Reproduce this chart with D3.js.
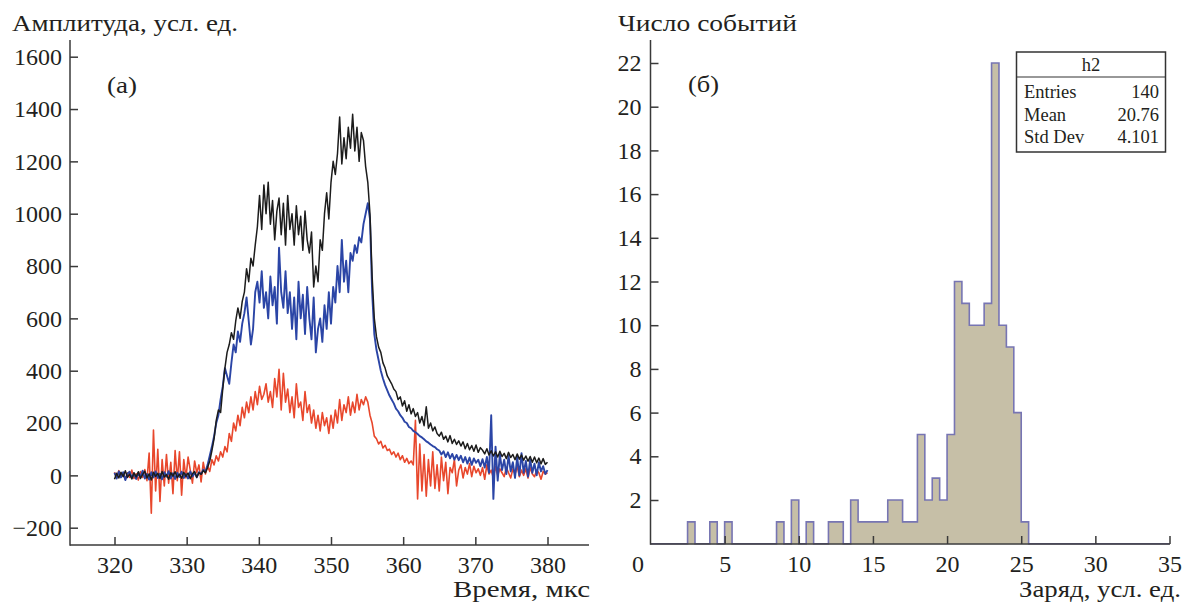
<!DOCTYPE html>
<html>
<head>
<meta charset="utf-8">
<script src="https://cdn.jsdelivr.net/npm/d3@7"></script>
<style>
  body { margin: 0; background: #fff; }
  svg text { font-family: "Liberation Serif", "Times New Roman", serif; fill: #231f20; }
</style>
</head>
<body>
<svg id="fig" width="1183" height="602"></svg>
<script>
// ---- Panel (а): signal amplitude vs time, sampled every 0.3 µs from 320 µs ----
const timeStart = 320;
const timeStep = 0.3;

const amplitudeBlack = [
  -15, 8, -10, 12, -5, 18, -8, 5, -14, 10,
  -6, 14, -12, 4, 16, -10, 6, -18, 12, -4,
  8, -12, 15, -6, 3, -15, 10, -3, 14, -9,
  5, -11, 12, -4, 9, -13, 6, 15, -7, 10,
  4, 18, 10, 30, 55, 95, 140, 210, 250, 240,
  330, 410, 470, 500, 545, 520, 590, 640, 600, 665,
  700, 790, 740, 830, 800, 880, 950, 1070, 940, 1110,
  1000, 1120, 960, 1050, 900, 1010, 1060, 920, 1040, 880,
  1070, 940, 1000, 880, 1030, 920, 990, 860, 1010, 900,
  850, 930, 720, 800, 740, 900, 860, 1000, 1080, 980,
  1120, 1200, 1150, 1230, 1370, 1190, 1290, 1210, 1330, 1250,
  1380, 1240, 1330, 1200, 1310, 1280, 1180, 1120, 1000, 760,
  600, 530, 490, 470, 430, 410, 380, 365, 350, 330,
  320, 290, 300, 265, 285, 245, 270, 235, 255, 225,
  240, 200, 225, 190, 262, 180, 200, 170, 185, 160,
  150, 165, 138, 150, 128, 152, 122, 138, 118, 132,
  112, 128, 102, 122, 98, 114, 92, 116, 88, 106,
  96, 82, 102, 78, 94, 74, 90, 70, 92, 72,
  84, 64, 88, 68, 80, 60, 82, 62, 78, 58,
  74, 54, 72, 50, 70, 48, 66, 44, 64, 42,
  50
];

const amplitudeBlue = [
  10, -12, 15, -8, 12, -18, 6, 14, -10, 8,
  -14, 10, -6, 18, -12, 5, -16, 12, -8, 15,
  -10, 6, -15, 12, -5, 16, -12, 8, -14, 10,
  -6, 14, -10, 5, -12, 15, -4, 10, -8, 12,
  5, 22, 15, 40, 75, 110, 150, 200, 230, 290,
  340, 410, 380, 350, 430, 500, 470, 550, 510, 580,
  620, 680, 590, 500, 560, 700, 740, 660, 780, 640,
  700, 600, 760, 650, 720, 580, 870, 700, 640, 780,
  620, 700, 560, 680, 520, 740, 600, 690, 540, 720,
  600, 520, 680, 470, 560, 600, 510, 650, 560, 700,
  580, 720, 660, 800, 700, 900, 740, 820, 700, 850,
  820, 880, 850, 910, 890, 960, 1000, 1040, 980, 700,
  540, 480, 440, 400, 370, 345, 325, 305, 290, 275,
  255, 245, 230, 220, 205, 200, 185, 180, 170, 165,
  158, 150, 145, 138, 130, 125, 118, 112, 108, 100,
  95, 80, 92, 70, 88, 65, 82, 60, 78, 58,
  75, 50, 70, 45, 68, 40, 65, 48, 60, 35,
  62, 30, 70, 10, 230, -90, 110, -20, 80, 20,
  60, 5, 75, 15, 50, -10, 70, 0, 85, 10,
  55, -5, 60, 10, 45, 0, 50, 15, 35, 5,
  20
];

const amplitudeRed = [
  12, -10, 18, -5, 8, -15, 10, -8, 20, -12,
  6, -18, 15, -8, 22, -20, 85, -145, 173, -60,
  100, -100, 60, -40, 80, -30, 50, -70, 95, -20,
  90, -76, 60, -10, 70, 20, -30, 55, 10, 40,
  -25, 50, 5, 35, 15, 60, 40, 75, 55, 90,
  70, 110, 90, 160, 130, 200, 170, 230, 190, 260,
  220, 280, 240, 300, 250, 320, 270, 340, 290, 310,
  350, 280, 320, 260, 370, 300, 405, 250, 390, 280,
  330, 240, 300, 220, 350, 260, 280, 210, 320, 240,
  270, 200, 250, 180, 230, 170, 240, 190, 220, 160,
  230, 180, 250, 200, 290, 210, 270, 240, 300, 230,
  280, 240, 310, 250, 290, 270, 300, 280, 230, 200,
  150, 140, 120, 130, 105, 115, 95, 100, 80, 90,
  70, 85, 60, 75, 50, 65, 45, 55, 40, 210,
  -90, 120, -60, 80, -80, 60, -40, 90, -50, 40,
  -60, 70, -20, 50, -70, 30, 10, 60, -40, 20,
  40, -10, 30, 5, 45, -5, 35, 10, 25, 0,
  30, -15, 40, 5, 20, -10, 35, 0, 25, 10,
  -5, 30, 10, -10, 25, 5, 35, -5, 20, 0,
  25, -10, 30, 5, -5, 20, 10, -15, 15, 5,
  10
];

const timeTicks = [320, 330, 340, 350, 360, 370, 380];
const amplitudeTicks = [-200, 0, 200, 400, 600, 800, 1000, 1200, 1400, 1600];

// ---- Panel (б): charge histogram, 70 bins of 0.5 from 0 to 35 ----
const chargeBinWidth = 0.5;
const chargeCounts = [
  0, 0, 0, 0, 0, 1, 0, 0, 1, 0,
  1, 0, 0, 0, 0, 0, 0, 1, 0, 2,
  0, 1, 0, 0, 1, 1, 0, 2, 1, 1,
  1, 1, 2, 2, 1, 1, 5, 2, 3, 2,
  5, 12, 11, 10, 10, 11, 22, 10, 9, 6,
  1, 0, 0, 0, 0, 0, 0, 0, 0, 0,
  0, 0, 0, 0, 0, 0, 0, 0, 0, 0
];
const chargeTicks = [0, 5, 10, 15, 20, 25, 30, 35];
const countTicks = [2, 4, 6, 8, 10, 12, 14, 16, 18, 20, 22];

const statsTitle = "h2";
const statsLabels = ["Entries", "Mean", "Std Dev"];
const statsValues = [String(d3.sum(chargeCounts)), "20.76", "4.101"];

// ---------------------------------------------------------------
const svg = d3.select("#fig");
const axisColor = "#3a3a3a";
const tickFont = 24;
const fmt = d3.format("d");

// text helper: serif label stretched to a given width
function label(g, x, y, str, width, anchor) {
  const t = g.append("text").attr("x", x).attr("y", y).attr("font-size", 24)
    .attr("text-anchor", anchor || "start").text(str);
  if (width) t.attr("textLength", width).attr("lengthAdjust", "spacingAndGlyphs");
  return t;
}

// ===== Panel (а) =====
const xT = d3.scaleLinear().domain([320, 380]).range([114.5, 547.5]);
const yA = d3.scaleLinear().domain([-200, 1600]).range([527.7, 56.7]);

const left = svg.append("g");
const traceLine = d3.line()
  .x((d, i) => xT(timeStart + i * timeStep))
  .y(d => yA(d));

[
  { data: amplitudeRed, color: "#e8472c", width: 1.6 },
  { data: amplitudeBlue, color: "#2b45a6", width: 1.9 },
  { data: amplitudeBlack, color: "#1c1c1c", width: 1.5 }
].forEach(s => {
  left.append("path")
    .datum(s.data)
    .attr("fill", "none")
    .attr("stroke", s.color)
    .attr("stroke-width", s.width)
    .attr("stroke-linejoin", "round")
    .attr("d", traceLine);
});

// axes of panel (а)
const axA_y = left.append("g").attr("transform", "translate(70,0)")
  .call(d3.axisLeft(yA).tickValues(amplitudeTicks).tickFormat(fmt).tickSize(-8).tickPadding(8));
const axA_x = left.append("g").attr("transform", "translate(0,545)")
  .call(d3.axisBottom(xT).tickValues(timeTicks).tickFormat(fmt).tickSize(-8).tickPadding(11));
[axA_y, axA_x].forEach(g => {
  g.select(".domain").remove();
  g.selectAll(".tick line").attr("stroke", axisColor).attr("stroke-width", 1.5);
  g.selectAll(".tick text").attr("font-size", tickFont).attr("fill", "#231f20")
    .style("font-family", "Liberation Serif");
});
left.append("line").attr("x1", 70).attr("x2", 70).attr("y1", 40).attr("y2", 545.75)
  .attr("stroke", axisColor).attr("stroke-width", 1.5);
left.append("line").attr("x1", 70).attr("x2", 589).attr("y1", 545).attr("y2", 545)
  .attr("stroke", axisColor).attr("stroke-width", 1.5);

label(left, 12, 31, "Амплитуда, усл. ед.", 226);
label(left, 590, 597, "Время, мкс", 137, "end");
label(left, 107, 93, "(а)", 30);

// ===== Panel (б) =====
const xC = d3.scaleLinear().domain([0, 35]).range([650.5, 1169.5]);
const yN = d3.scaleLinear().domain([0, 22]).range([543.7, 63]);

const right = svg.append("g");
const histPoints = chargeCounts.map((c, i) => [i * chargeBinWidth, c]);
histPoints.push([chargeCounts.length * chargeBinWidth, 0]);

right.append("path")
  .datum(histPoints)
  .attr("fill", "#c6bfa7")
  .attr("stroke", "none")
  .attr("d", d3.area().curve(d3.curveStepAfter)
    .x(d => xC(d[0])).y0(yN(0)).y1(d => yN(d[1])));
right.append("path")
  .datum(histPoints)
  .attr("fill", "none")
  .attr("stroke", "#7775b3")
  .attr("stroke-width", 1.6)
  .attr("d", d3.line().curve(d3.curveStepAfter)
    .x(d => xC(d[0])).y(d => yN(d[1])));

const axB_y = right.append("g").attr("transform", "translate(650.5,0)")
  .call(d3.axisLeft(yN).tickValues(countTicks).tickFormat(fmt).tickSize(-8).tickPadding(9));
const axB_x = right.append("g").attr("transform", "translate(0,544)")
  .call(d3.axisBottom(xC).tickValues(chargeTicks).tickFormat(fmt).tickSize(-8).tickPadding(11));
[axB_y, axB_x].forEach(g => {
  g.select(".domain").remove();
  g.selectAll(".tick line").attr("stroke", axisColor).attr("stroke-width", 1.5);
  g.selectAll(".tick text").attr("font-size", tickFont).attr("fill", "#231f20")
    .style("font-family", "Liberation Serif");
});
// the zero label sits just left of the vertical axis
axB_x.selectAll(".tick").filter(d => d === 0).select("text").attr("x", -13);
axB_x.selectAll(".tick").filter(d => d === 0).select("line").remove();

right.append("line").attr("x1", 650.5).attr("x2", 650.5).attr("y1", 40).attr("y2", 544.75)
  .attr("stroke", axisColor).attr("stroke-width", 1.5);
right.append("line").attr("x1", 650.5).attr("x2", 1170).attr("y1", 544).attr("y2", 544)
  .attr("stroke", axisColor).attr("stroke-width", 1.5);

label(right, 618, 31, "Число событий", 179);
label(right, 1181, 597, "Заряд, усл. ед.", 162, "end");
label(right, 688, 92, "(б)", 31);

// statistics box
const box = right.append("g");
box.append("rect").attr("x", 1016.5).attr("y", 52).attr("width", 149).attr("height", 100)
  .attr("fill", "#fff").attr("stroke", "#333").attr("stroke-width", 1.5);
box.append("line").attr("x1", 1016.5).attr("x2", 1165.5).attr("y1", 77).attr("y2", 77)
  .attr("stroke", "#333").attr("stroke-width", 1.2);
box.append("text").attr("x", 1091).attr("y", 71).attr("font-size", 18.5)
  .attr("text-anchor", "middle").text(statsTitle);
statsLabels.forEach((lab, i) => {
  const yy = 98 + i * 22.5;
  box.append("text").attr("x", 1024).attr("y", yy).attr("font-size", 18.5).text(lab);
  box.append("text").attr("x", 1159).attr("y", yy).attr("font-size", 18.5)
    .attr("text-anchor", "end").text(statsValues[i]);
});
</script>
</body>
</html>
